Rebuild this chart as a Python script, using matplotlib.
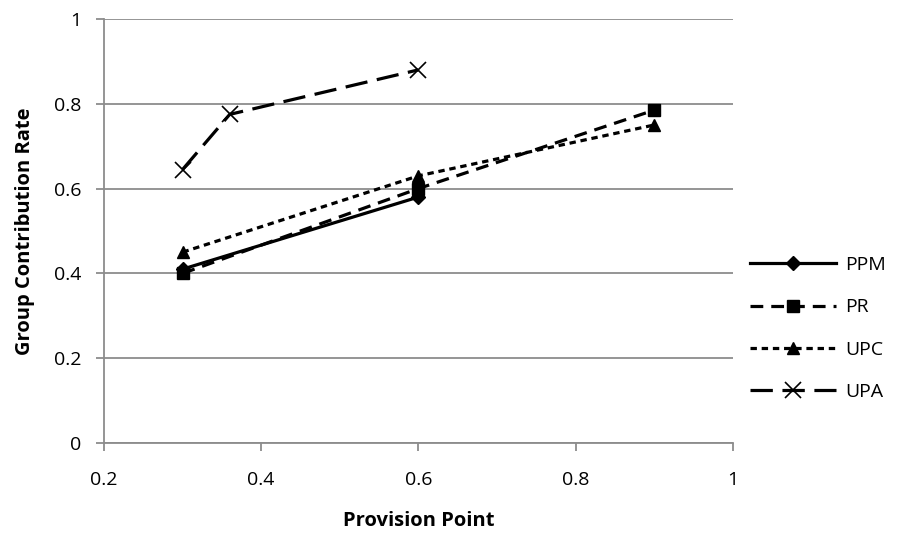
import matplotlib.pyplot as plt

plt.rcParams["font.family"] = ["Open Sans", "DejaVu Sans"]

GRID = "#8C8C8C"

ppm_x = [0.3, 0.6]
ppm_y = [0.41, 0.58]
pr_x = [0.3, 0.6, 0.9]
pr_y = [0.40, 0.60, 0.785]
upc_x = [0.3, 0.6, 0.9]
upc_y = [0.45, 0.63, 0.75]
upa_x = [0.3, 0.36, 0.6]
upa_y = [0.645, 0.775, 0.88]

x_ticks = [0.2, 0.4, 0.6, 0.8, 1.0]
x_labels = ["0.2", "0.4", "0.6", "0.8", "1"]
y_ticks = [0, 0.2, 0.4, 0.6, 0.8, 1.0]
y_labels = ["0", "0.2", "0.4", "0.6", "0.8", "1"]

fig = plt.figure(figsize=(9.08, 5.35), dpi=100)
ax = fig.add_axes([0.1145, 0.172, 0.6925, 0.7925])

ax.plot(ppm_x, ppm_y, color="black", lw=2.3, ls="-", marker="D", ms=7.5, label="PPM")
ax.plot(pr_x, pr_y, color="black", lw=2.3, ls=(0, (4, 2.5)), marker="s", ms=8, label="PR")
ax.plot(upc_x, upc_y, color="black", lw=2.3, ls=(0, (2, 1.5)), marker="^", ms=8, label="UPC")
ax.plot(upa_x, upa_y, color="black", lw=2.3, ls=(0, (7, 3)), marker="x", ms=11,
        mew=1.2, label="UPA")

ax.set_xlim(0.2, 1.0)
ax.set_ylim(0, 1.0)
ax.set_xticks(x_ticks, x_labels)
ax.set_yticks(y_ticks, y_labels)
ax.grid(axis="y", color=GRID, lw=1.3)
ax.set_axisbelow(True)
for side in ("top", "right"):
    ax.spines[side].set_visible(False)
for side in ("left", "bottom"):
    ax.spines[side].set_color(GRID)
    ax.spines[side].set_linewidth(1.3)
ax.tick_params(direction="out", color=GRID, width=1.3, length=6, labelsize=14)
ax.tick_params(axis="x", pad=14)
ax.tick_params(axis="y", pad=10)

ax.set_xlabel("Provision Point", fontsize=14.5, weight="bold", labelpad=16)
ax.set_ylabel("Group Contribution Rate", fontsize=14.5, weight="bold", labelpad=14)

ax.legend(loc="center left", bbox_to_anchor=(1.0, 0.27), frameon=False, fontsize=14,
          handlelength=4.4, handletextpad=0.5, labelspacing=1.25)

fig.savefig("out.png", dpi=100)
